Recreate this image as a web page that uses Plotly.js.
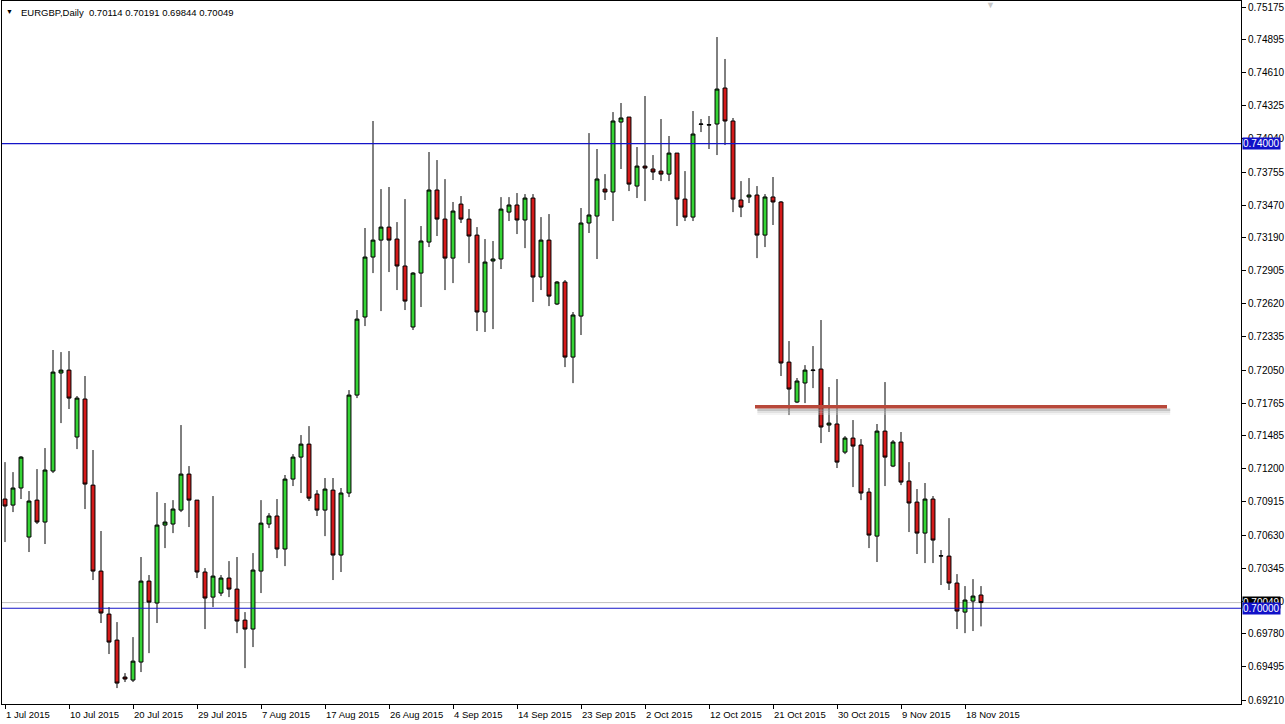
<!DOCTYPE html>
<html>
<head>
<meta charset="utf-8">
<script src="https://cdn.plot.ly/plotly-3.0.1.min.js"></script>
<style>html,body{margin:0;padding:0;background:#fff;}#chart{width:1285px;height:724px;}</style>
</head>
<body>
<div id="chart"></div>
<script>
const symbol = 'EURGBP,Daily';
const dates = [
'2015-07-01','2015-07-02','2015-07-03','2015-07-05','2015-07-06','2015-07-07','2015-07-08','2015-07-09','2015-07-10','2015-07-12',
'2015-07-13','2015-07-14','2015-07-15','2015-07-16','2015-07-17','2015-07-19','2015-07-20','2015-07-21','2015-07-22','2015-07-23',
'2015-07-24','2015-07-26','2015-07-27','2015-07-28','2015-07-29','2015-07-30','2015-07-31','2015-08-02','2015-08-03','2015-08-04',
'2015-08-05','2015-08-06','2015-08-07','2015-08-09','2015-08-10','2015-08-11','2015-08-12','2015-08-13','2015-08-14','2015-08-16',
'2015-08-17','2015-08-18','2015-08-19','2015-08-20','2015-08-21','2015-08-23','2015-08-24','2015-08-25','2015-08-26','2015-08-27',
'2015-08-28','2015-08-30','2015-08-31','2015-09-01','2015-09-02','2015-09-03','2015-09-04','2015-09-06','2015-09-07','2015-09-08',
'2015-09-09','2015-09-10','2015-09-11','2015-09-13','2015-09-14','2015-09-15','2015-09-16','2015-09-17','2015-09-18','2015-09-20',
'2015-09-21','2015-09-22','2015-09-23','2015-09-24','2015-09-25','2015-09-27','2015-09-28','2015-09-29','2015-09-30','2015-10-01',
'2015-10-02','2015-10-04','2015-10-05','2015-10-06','2015-10-07','2015-10-08','2015-10-09','2015-10-11','2015-10-12','2015-10-13',
'2015-10-14','2015-10-15','2015-10-16','2015-10-18','2015-10-19','2015-10-20','2015-10-21','2015-10-22','2015-10-23','2015-10-25',
'2015-10-26','2015-10-27','2015-10-28','2015-10-29','2015-10-30','2015-11-01','2015-11-02','2015-11-03','2015-11-04','2015-11-05',
'2015-11-06','2015-11-08','2015-11-09','2015-11-10','2015-11-11','2015-11-12','2015-11-13','2015-11-15','2015-11-16','2015-11-17',
'2015-11-18','2015-11-19','2015-11-20'];

const open = [
0.70940,0.70888,0.71035,0.70613,0.70931,0.70742,0.71181,0.72025,0.72050,0.71474,
0.71801,0.71060,0.70320,0.69950,0.69726,0.69408,0.69382,0.69537,0.70234,0.70045,
0.70716,0.70725,0.70845,0.71155,0.70931,0.70312,0.70096,0.70131,0.70260,0.70165,
0.69898,0.69821,0.70320,0.70725,0.70794,0.70510,0.71112,0.71301,0.71413,0.70983,
0.70845,0.71017,0.70458,0.70992,0.71835,0.72507,0.73023,0.73169,0.73281,0.73178,
0.72946,0.72421,0.72885,0.73152,0.73600,0.73350,0.73014,0.73479,0.73350,0.73212,
0.72550,0.72989,0.73006,0.73410,0.73471,0.73342,0.73531,0.72851,0.73169,0.72619,
0.72808,0.72162,0.72515,0.73316,0.73376,0.73608,0.73583,0.74185,0.74228,0.73634,
0.73806,0.73781,0.73763,0.73737,0.73918,0.73522,0.73367,0.74165,0.74159,0.74168,
0.74478,0.74194,0.73514,0.73540,0.73557,0.73212,0.73540,0.73497,0.72119,0.71775,
0.71939,0.72046,0.72059,0.71577,0.71586,0.71344,0.71465,0.71405,0.71000,0.70621,
0.71525,0.71224,0.71431,0.71095,0.70914,0.70647,0.70940,0.70449,0.70449,0.70217,
0.69967,0.70062,0.70114];

const high = [
0.71258,0.71172,0.71310,0.71009,0.71198,0.71379,0.72223,0.72205,0.72214,0.71827,
0.71999,0.71362,0.70665,0.70010,0.69881,0.69442,0.69752,0.70441,0.70286,0.71000,
0.70906,0.70931,0.71577,0.71224,0.70931,0.70346,0.70966,0.70286,0.70406,0.70441,
0.69967,0.70475,0.70931,0.70819,0.70940,0.71147,0.71327,0.71491,0.71568,0.71017,
0.71121,0.71121,0.71035,0.71878,0.72567,0.73273,0.74194,0.73608,0.73626,0.73324,
0.73522,0.72894,0.73290,0.73927,0.73858,0.73694,0.73497,0.73548,0.73436,0.73281,
0.73178,0.73161,0.73539,0.73539,0.73574,0.73565,0.73565,0.73367,0.73393,0.72817,
0.72825,0.72550,0.73445,0.74090,0.73953,0.73737,0.74271,0.74349,0.74228,0.73970,
0.74409,0.73901,0.74211,0.74065,0.73918,0.73763,0.74280,0.74211,0.74237,0.74917,
0.74728,0.74220,0.73677,0.73703,0.73634,0.73565,0.73712,0.73505,0.72300,0.71982,
0.72093,0.72257,0.72481,0.71904,0.71973,0.71482,0.71620,0.71456,0.71035,0.71586,
0.71947,0.71448,0.71517,0.71258,0.71026,0.71078,0.70966,0.70501,0.70776,0.70294,
0.70191,0.70251,0.70191];

const low = [
0.70570,0.70828,0.70940,0.70484,0.70725,0.70553,0.71164,0.71594,0.71715,0.71370,
0.70854,0.70243,0.69873,0.69606,0.69313,0.69365,0.69365,0.69451,0.69614,0.69873,
0.70518,0.70647,0.70828,0.70699,0.70260,0.69821,0.70010,0.70105,0.70096,0.69786,
0.69485,0.69666,0.70131,0.70690,0.70432,0.70363,0.71052,0.70992,0.70923,0.70794,
0.70621,0.70243,0.70312,0.70957,0.71809,0.72429,0.72885,0.72558,0.72894,0.72739,
0.72567,0.72395,0.72593,0.73109,0.73204,0.72739,0.72799,0.73316,0.72971,0.72386,
0.72378,0.72403,0.72920,0.73333,0.73221,0.73100,0.72636,0.72739,0.72601,0.72610,
0.72076,0.71938,0.72352,0.73230,0.73006,0.73514,0.73333,0.73781,0.73591,0.73531,
0.73505,0.73686,0.73677,0.73677,0.73290,0.73333,0.73333,0.74099,0.73953,0.73901,
0.73987,0.73410,0.73367,0.73488,0.73014,0.73109,0.73299,0.71999,0.71663,0.71766,
0.71766,0.71895,0.71422,0.71517,0.71207,0.71327,0.71043,0.70931,0.70518,0.70398,
0.71052,0.71215,0.71060,0.70656,0.70467,0.70389,0.70389,0.70200,0.70157,0.69821,
0.69786,0.69804,0.69844];

const close = [
0.70880,0.71035,0.71301,0.70923,0.70742,0.71190,0.72033,0.72050,0.71809,0.71809,
0.71069,0.70320,0.69959,0.69709,0.69356,0.69391,0.69545,0.70234,0.70053,0.70716,
0.70742,0.70854,0.71155,0.70931,0.70312,0.70088,0.70277,0.70260,0.70165,0.69890,
0.69821,0.70329,0.70733,0.70794,0.70510,0.71112,0.71301,0.71413,0.70948,0.70845,
0.71026,0.70458,0.70992,0.71835,0.72489,0.73023,0.73169,0.73281,0.73169,0.72946,
0.72644,0.72885,0.73161,0.73600,0.73350,0.73014,0.73419,0.73350,0.73204,0.72550,
0.72980,0.73006,0.73436,0.73471,0.73342,0.73531,0.72851,0.73169,0.72687,0.72808,
0.72162,0.72524,0.73316,0.73385,0.73695,0.73583,0.74194,0.74220,0.73651,0.73806,
0.73789,0.73755,0.73737,0.73918,0.73522,0.73367,0.74082,0.74168,0.74162,0.74469,
0.74194,0.73522,0.73453,0.73557,0.73212,0.73540,0.73497,0.72111,0.71887,0.71956,
0.72050,0.72050,0.71560,0.71594,0.71258,0.71465,0.71396,0.70992,0.70630,0.71525,
0.71301,0.71431,0.71086,0.70906,0.70647,0.70940,0.70587,0.70452,0.70217,0.69976,
0.70071,0.70105,0.70049];

const priceTicks = [0.75175,0.74895,0.74610,0.74325,0.74040,0.73755,0.73470,0.73190,0.72905,0.72620,0.72335,
                    0.72050,0.71765,0.71485,0.71200,0.70915,0.70630,0.70345,0.70060,0.69780,0.69495,0.69210];
const dateTickEvery = 8;
const monthNames = ['Jan','Feb','Mar','Apr','May','Jun','Jul','Aug','Sep','Oct','Nov','Dec'];
const blueLevels = [0.74000, 0.70000];
const resistanceLine = {price: 0.71735, startBar: 93.75, endBar: 145.25};

const tickDates = dates.filter((d, i) => i % dateTickEvery === 0);
const tickLabels = tickDates.map(d => {
  const p = d.split('-');
  return parseInt(p[2], 10) + ' ' + monthNames[parseInt(p[1], 10) - 1] + ' ' + p[0];
});
const n = dates.length;
const lastO = open[n-1], lastH = high[n-1], lastL = low[n-1], lastC = close[n-1];
const fmt = v => v.toFixed(5);

const FONT = 'Liberation Sans, Arial, sans-serif';
const LINE_BLUE = '#1414c8';
const BOX_BLUE = '#1010c8';

const trace = {
  type: 'candlestick',
  x: dates, open: open, high: high, low: low, close: close,
  increasing: {line: {color: '#000000', width: 1}, fillcolor: '#35d435'},
  decreasing: {line: {color: '#000000', width: 1}, fillcolor: '#d41a1a'},
  whiskerwidth: 0,
  hoverinfo: 'skip',
  showlegend: false
};

const shapes = [
  {type: 'line', xref: 'paper', x0: 0, x1: 1, yref: 'y', y0: lastC, y1: lastC,
   line: {color: '#c0c0c0', width: 1}, layer: 'below'}
];
blueLevels.forEach(v => shapes.push({type: 'line', xref: 'paper', x0: 0, x1: 1, yref: 'y', y0: v, y1: v,
   line: {color: LINE_BLUE, width: 1.2}}));
// soft drop shadow under the hand-drawn level
[[-3, 'rgba(150,150,150,0.55)'], [-5, 'rgba(185,185,185,0.4)'], [-7, 'rgba(215,215,215,0.3)']].forEach(s => {
  shapes.push({type: 'line', xref: 'x', x0: resistanceLine.startBar + 0.3, x1: resistanceLine.endBar + 0.4,
    yref: 'y', ysizemode: 'pixel', yanchor: resistanceLine.price, y0: s[0], y1: s[0],
    line: {color: s[1], width: 2.5}});
});
shapes.push({type: 'line', xref: 'x', x0: resistanceLine.startBar, x1: resistanceLine.endBar,
  yref: 'y', y0: resistanceLine.price, y1: resistanceLine.price,
  line: {color: '#b8483a', width: 3.5}});

const annotations = [
  {xref: 'paper', yref: 'paper', x: 0, y: 1, xanchor: 'left', yanchor: 'top', xshift: 2, yshift: -5,
   text: '\u25BC', showarrow: false, font: {family: FONT, size: 7, color: '#000'}},
  {xref: 'paper', yref: 'paper', x: 0, y: 1, xanchor: 'left', yanchor: 'top', xshift: 17, yshift: -4,
   text: symbol + '\u00a0 ' + [lastO, lastH, lastL, lastC].map(fmt).join(' '), showarrow: false,
   font: {family: FONT, size: 9.5, color: '#000'}},
  {xref: 'paper', yref: 'paper', x: (990 - 2) / 1239, y: 1, xanchor: 'center', yanchor: 'top', yshift: 3,
   text: '\u25BC', showarrow: false, font: {family: FONT, size: 9, color: '#c8c8c8'}},
  {xref: 'paper', yref: 'y', x: 1, y: lastC, xanchor: 'left', yanchor: 'middle', xshift: 1,
   text: fmt(lastC), showarrow: false, bgcolor: '#000000', borderpad: 0,
   font: {family: FONT, size: 10, color: '#ffffff'}}
];
blueLevels.forEach(v => annotations.push({xref: 'paper', yref: 'y', x: 1, y: v, xanchor: 'left', yanchor: 'middle', xshift: 1,
   text: fmt(v), showarrow: false, bgcolor: BOX_BLUE, borderpad: 0,
   font: {family: FONT, size: 10, color: '#ffffff'}}));
// date labels start at their tick mark, as in the terminal
tickDates.forEach((d, k) => annotations.push({xref: 'x', yref: 'paper', x: d, y: 0, xanchor: 'left', yanchor: 'top',
   xshift: -1, yshift: -3, text: tickLabels[k], showarrow: false, font: {family: FONT, size: 9.5, color: '#000'}}));

const layout = {
  width: 1285, height: 724,
  margin: {l: 2, r: 44, t: 1, b: 20, pad: 0},
  paper_bgcolor: '#ffffff', plot_bgcolor: '#ffffff',
  showlegend: false,
  font: {family: FONT, size: 10, color: '#000'},
  xaxis: {
    type: 'category', range: [-0.375, 154.5], rangeslider: {visible: false},
    showgrid: false, zeroline: false, showline: true, mirror: true, linecolor: '#000', linewidth: 1,
    ticks: 'outside', ticklen: 4, tickcolor: '#000', tickwidth: 1,
    tickvals: tickDates, ticktext: tickLabels, showticklabels: false, fixedrange: true
  },
  yaxis: {
    side: 'right', range: [0.69176, 0.75227],
    showgrid: false, zeroline: false, showline: true, mirror: true, linecolor: '#000', linewidth: 1,
    ticks: 'outside', ticklen: 4, tickcolor: '#000', tickwidth: 1,
    tickvals: priceTicks, ticktext: priceTicks.map(fmt),
    tickfont: {family: FONT, size: 10, color: '#000'}, fixedrange: true
  },
  shapes: shapes,
  annotations: annotations
};

Plotly.newPlot('chart', [trace], layout, {displayModeBar: false, staticPlot: true});
</script>
</body>
</html>
